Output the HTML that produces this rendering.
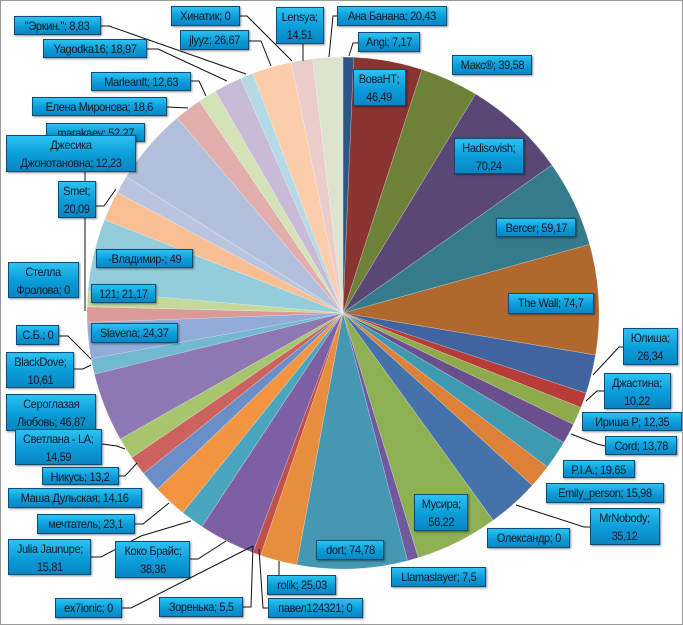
<!DOCTYPE html>
<html><head><meta charset="utf-8"><style>
html,body{margin:0;padding:0;background:#fff}
#c{position:relative;width:683px;height:625px;overflow:hidden;box-sizing:border-box;border:1px solid #9a9a9a;background:#fff}
svg{position:absolute;left:0;top:0}
.l{position:absolute;box-sizing:border-box;border:1px solid #0b4e78;background:linear-gradient(#2cc2f2,#0a9cd8 55%,#0a86c2);box-shadow:1px 1px 2px rgba(0,0,0,.45);font-family:"Liberation Sans",sans-serif;font-size:12px;letter-spacing:-0.4px;color:#0c1a28;text-align:center;line-height:18px;white-space:nowrap;overflow:hidden}
.l span{display:inline-block;transform:scaleX(0.92);transform-origin:center}
</style></head><body><div id="c">
<svg id="s" width="683" height="625" viewBox="0 0 683 625"></svg>
<div class="l" style="left:13px;top:15px;width:87px;height:19px"><span>"Эркин."; 8,83</span></div>
<div class="l" style="left:170px;top:5px;width:69px;height:20px"><span>Хинатик; 0</span></div>
<div class="l" style="left:275px;top:6px;width:48px;height:37px"><span>Lensya;<br>14,51</span></div>
<div class="l" style="left:336px;top:5px;width:110px;height:20px"><span>Ана Банана; 20,43</span></div>
<div class="l" style="left:179px;top:29px;width:69px;height:20px"><span>jlyyz; 26,67</span></div>
<div class="l" style="left:357px;top:31px;width:62px;height:20px"><span>Angi; 7,17</span></div>
<div class="l" style="left:42px;top:38px;width:104px;height:19px"><span>Yagodka16; 18,97</span></div>
<div class="l" style="left:451px;top:54px;width:80px;height:20px"><span>Макс®; 39,58</span></div>
<div class="l" style="left:352px;top:68px;width:53px;height:37px"><span>ВоваНТ;<br>46,49</span></div>
<div class="l" style="left:90px;top:71px;width:100px;height:19px"><span>Marleanft; 12,63</span></div>
<div class="l" style="left:31px;top:96px;width:135px;height:19px"><span>Елена Миронова; 18,6</span></div>
<div class="l" style="left:45px;top:122px;width:99px;height:19px"><span>marakaev; 52,27</span></div>
<div class="l" style="left:5px;top:134px;width:130px;height:37px"><span>Джесика<br>Джонотановна; 12,23</span></div>
<div class="l" style="left:453px;top:137px;width:70px;height:36px"><span>Hadisovish;<br>70,24</span></div>
<div class="l" style="left:57px;top:180px;width:38px;height:37px"><span>Smet;<br>20,09</span></div>
<div class="l" style="left:495px;top:217px;width:80px;height:19px"><span>Bercer; 59,17</span></div>
<div class="l" style="left:95px;top:248px;width:97px;height:19px"><span>-Владимир-; 49</span></div>
<div class="l" style="left:7px;top:261px;width:71px;height:36px"><span>Стелла<br>Фролова; 0</span></div>
<div class="l" style="left:90px;top:283px;width:65px;height:19px"><span>121; 21,17</span></div>
<div class="l" style="left:507px;top:292px;width:86px;height:21px"><span>The Wall; 74,7</span></div>
<div class="l" style="left:15px;top:324px;width:43px;height:20px"><span>С.Б.; 0</span></div>
<div class="l" style="left:90px;top:322px;width:87px;height:20px"><span>Slavena; 24,37</span></div>
<div class="l" style="left:622px;top:327px;width:55px;height:37px"><span>Юлиша;<br>26,34</span></div>
<div class="l" style="left:5px;top:351px;width:68px;height:36px"><span>BlackDove;<br>10,61</span></div>
<div class="l" style="left:603px;top:372px;width:67px;height:36px"><span>Джастина;<br>10,22</span></div>
<div class="l" style="left:5px;top:393px;width:90px;height:37px"><span>Сероглазая<br>Любовь; 46,87</span></div>
<div class="l" style="left:581px;top:411px;width:100px;height:19px"><span>Ириша Р; 12,35</span></div>
<div class="l" style="left:14px;top:428px;width:87px;height:36px"><span>Светлана - LA;<br>14,59</span></div>
<div class="l" style="left:604px;top:435px;width:72px;height:19px"><span>Cord; 13,78</span></div>
<div class="l" style="left:41px;top:466px;width:77px;height:18px"><span>Никусь; 13,2</span></div>
<div class="l" style="left:562px;top:459px;width:72px;height:18px"><span>P.I.A.; 19,65</span></div>
<div class="l" style="left:7px;top:487px;width:134px;height:20px"><span>Маша Дульская; 14,16</span></div>
<div class="l" style="left:545px;top:482px;width:118px;height:20px"><span>Emily_person; 15,98</span></div>
<div class="l" style="left:413px;top:493px;width:54px;height:37px"><span>Мусира;<br>56,22</span></div>
<div class="l" style="left:589px;top:507px;width:70px;height:37px"><span>MrNobody;<br>35,12</span></div>
<div class="l" style="left:36px;top:513px;width:98px;height:20px"><span>мечтатель; 23,1</span></div>
<div class="l" style="left:486px;top:527px;width:83px;height:20px"><span>Олександр; 0</span></div>
<div class="l" style="left:7px;top:538px;width:83px;height:36px"><span>Julia Jaunupe;<br>15,81</span></div>
<div class="l" style="left:114px;top:540px;width:75px;height:37px"><span>Коко Брайс;<br>38,36</span></div>
<div class="l" style="left:315px;top:539px;width:68px;height:20px"><span>dort; 74,78</span></div>
<div class="l" style="left:390px;top:566px;width:95px;height:20px"><span>Llamaslayer; 7,5</span></div>
<div class="l" style="left:266px;top:574px;width:69px;height:20px"><span>rolik; 25,03</span></div>
<div class="l" style="left:54px;top:597px;width:67px;height:20px"><span>ex7ionic; 0</span></div>
<div class="l" style="left:158px;top:596px;width:84px;height:20px"><span>Зоренька; 5,5</span></div>
<div class="l" style="left:267px;top:597px;width:95px;height:20px"><span>павел124321; 0</span></div>
</div>
<script>
var d=[[7.17,"#2F5486"],[46.49,"#8A3431"],[39.58,"#6B8238"],[70.24,"#5B4775"],[59.17,"#357B8C"],[74.7,"#B0682C"],[26.34,"#3F64A0"],[10.22,"#B73B37"],[12.35,"#8EAA4A"],[13.78,"#6A4F8E"],[19.65,"#3D9AB1"],[15.98,"#DC8137"],[35.12,"#4672AB"],[56.22,"#8DB052"],[7.5,"#7159A0"],[74.78,"#4498B2"],[25.03,"#E68D3E"],[5.5,"#C24E4A"],[38.36,"#7D60A3"],[15.81,"#4AA6BF"],[23.1,"#F29440"],[14.16,"#6A8FC8"],[13.2,"#CD615D"],[14.59,"#A6C56D"],[46.87,"#8D78B2"],[10.61,"#71B9CE"],[24.37,"#93ABD8"],[10.5,"#D99A98"],[10.67,"#C4D89A"],[49,"#93CDDC"],[20.09,"#F9BE92"],[12.23,"#B9C5DF"],[52.27,"#B3C0DC"],[18.6,"#E1AEAC"],[12.63,"#D4E2B8"],[18.97,"#C7BBD8"],[8.83,"#B3DAE5"],[26.67,"#FBCDAA"],[14.51,"#EACCCB"],[20.43,"#DCE4CF"]];
var T=0;d.forEach(function(e){T+=e[0]});
var cx=342,cy=312,r=256,a=0,h="";
function p(t){return [(cx+r*Math.sin(t)).toFixed(2),(cy-r*Math.cos(t)).toFixed(2)]}
d.forEach(function(e){var b=a+e[0]/T*2*Math.PI,s=p(a),f=p(b);h+='<path d="M'+cx+' '+cy+' L'+s[0]+' '+s[1]+' A'+r+' '+r+' 0 '+((b-a)>Math.PI?1:0)+' 1 '+f[0]+' '+f[1]+' Z" fill="'+e[1]+'" stroke="#fff" stroke-opacity="0.35" stroke-width="0.6"/>';a=b});
var L=[[[100,25],[108,25],[245,73]],[[146,48],[157,48],[226,80]],[[190,80],[198,80],[205,95]],[[166,106],[187,107]],[[248,40],[260,40],[270,65]],[[239,15],[246,15],[291,60]],[[302,43],[302,60]],[[336,15],[332,15],[328,56]],[[357,42],[352,42],[348,55]],[[95,205],[103,205],[115,188]],[[84,171],[84,180]],[[84,217],[84,310]],[[58,335],[67,335],[90,358]],[[73,368],[82,368],[90,364]],[[101,443],[116,445],[124,448]],[[118,475],[124,475],[136,462]],[[134,523],[142,523],[168,502]],[[90,556],[100,556],[140,535],[190,520]],[[189,558],[197,558],[225,540]],[[121,607],[130,607],[252,545]],[[242,606],[250,606],[252,545]],[[267,607],[262,607],[258,548]],[[278,574],[278,560]],[[622,346],[618,346],[592,374]],[[603,390],[596,390],[585,400]],[[604,445],[596,443],[570,433]],[[589,526],[583,526],[515,504]]];
L.forEach(function(l){h+='<polyline points="'+l.map(function(q){return q.join(",")}).join(" ")+'" fill="none" stroke="#111" stroke-width="1"/>'});
document.getElementById("s").innerHTML=h;
</script>
</body></html>
